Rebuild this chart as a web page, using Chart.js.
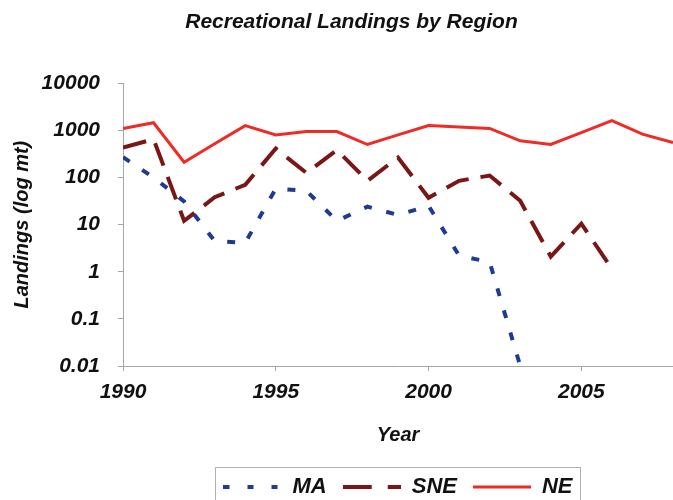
<!DOCTYPE html>
<html>
<head>
<meta charset="utf-8">
<script src="https://cdn.jsdelivr.net/npm/chart.js@4.4.1/dist/chart.umd.min.js"></script>
<style>
  body { margin: 0; background: #fff; }
  #chart { display: block; }
</style>
</head>
<body>
<canvas id="chart" width="673" height="500"></canvas>
<script>
// data
var years = [1990, 1991, 1992, 1993, 1994, 1995, 1996, 1997, 1998, 1999,
             2000, 2001, 2002, 2003, 2004, 2005, 2006, 2007, 2008];
var ma  = [270, 100, 31, 4.5, 4.1, 58, 52, 12, 24, 16,
           25, 2.2, 1.6, 0.01, null, null, null, null, null];
var sne = [430, 650, 12, 38, 70, 410, 125, 380, 85, 265,
           37, 85, 110, 32, 2.1, 10.5, 1.15, null, null];
var ne  = [1090, 1450, 210, 520, 1260, 800, 940, 940, 500, 800,
           1260, 1180, 1100, 600, 500, 890, 1600, 830, 550];
var xTicks = [1990, 1995, 2000, 2005];
var yTicks = [0.01, 0.1, 1, 10, 100, 1000, 10000];

function pts(vals) {
    var out = [];
    for (var i = 0; i < years.length; i++) {
        out.push({x: years[i], y: vals[i]});
    }
    return out;
}

// little line samples for the legend
function sample(color, width, dash) {
    var c = document.createElement('canvas');
    c.width = 58; c.height = 8;
    var g = c.getContext('2d');
    g.strokeStyle = color;
    g.lineWidth = width;
    g.setLineDash(dash);
    g.beginPath();
    g.moveTo(0, 4);
    g.lineTo(58, 4);
    g.stroke();
    return c;
}

var axisGray = '#a6a6a6';
var txt = '#111';
var boldItalic = function (size) { return {size: size, weight: 'bold', style: 'italic'}; };

Chart.defaults.font.family = '"Liberation Sans", Arial, sans-serif';

// box round the legend, and title nudged right like the original
var legendBorder = {
    id: 'legendBorder',
    afterLayout: function (chart) {
        chart.titleBlock.left = 30;
    },
    afterDraw: function (chart) {
        var boxes = chart.legend.legendHitBoxes;
        if (!boxes || !boxes.length) return;
        var first = boxes[0], last = boxes[boxes.length - 1];
        var ctx = chart.ctx;
        ctx.save();
        ctx.strokeStyle = '#b0b0b0';
        ctx.lineWidth = 1;
        ctx.strokeRect(Math.round(first.left - 8) + 0.5, Math.round(first.top - 9) + 0.5,
                       Math.round(last.left + last.width - first.left + 16), 80);
        ctx.restore();
    }
};

var ctx = document.getElementById('chart').getContext('2d');
var myChart = new Chart(ctx, {
    type: 'line',
    data: {
        datasets: [{
            label: 'MA',
            data: pts(ma),
            borderColor: '#1f3a93',
            borderWidth: 4,
            borderDash: [8, 15],
            pointRadius: 0,
            pointStyle: sample('#1f3a93', 4, [6, 18]),
            tension: 0
        },
        {
            label: 'SNE',
            data: pts(sne),
            borderColor: '#7a1616',
            borderWidth: 4,
            borderDash: [24, 12],
            pointRadius: 0,
            pointStyle: sample('#7a1616', 4, [29, 16]),
            tension: 0
        },
        {
            label: 'NE',
            data: pts(ne),
            borderColor: '#ee2b24',
            borderWidth: 3,
            pointRadius: 0,
            pointStyle: sample('#ee2b24', 3, []),
            tension: 0
        }]
    },
    options: {
        responsive: false,
        animation: false,
        devicePixelRatio: 1,
        layout: { padding: { left: 0, right: 0, top: 0, bottom: -8 } },
        plugins: {
            title: {
                display: true,
                text: 'Recreational Landings by Region',
                color: txt,
                font: boldItalic(21),
                padding: { top: 10, bottom: 48 }
            },
            legend: {
                position: 'bottom',
                fullSize: false,
                labels: {
                    usePointStyle: true,
                    pointStyleWidth: 58,
                    color: txt,
                    font: boldItalic(22),
                    padding: 16
                }
            },
            tooltip: { enabled: false }
        },
        scales: {
            x: {
                type: 'linear',
                min: 1990,
                max: 2008,
                afterBuildTicks: function (s) {
                    s.ticks = xTicks.map(function (v) { return {value: v}; });
                },
                afterFit: function (s) { s.height = 94; },
                ticks: {
                    color: txt,
                    font: boldItalic(21),
                    padding: 9,
                    maxRotation: 0,
                    callback: function (v) { return String(v); }
                },
                grid: { drawOnChartArea: false, tickLength: 5, color: axisGray },
                border: { color: axisGray },
                title: {
                    display: true,
                    text: 'Year',
                    color: txt,
                    font: boldItalic(20),
                    padding: { top: 0, bottom: 13 }
                }
            },
            y: {
                type: 'logarithmic',
                min: 0.01,
                max: 10000,
                afterBuildTicks: function (s) {
                    s.ticks = yTicks.map(function (v) { return {value: v}; });
                },
                afterFit: function (s) { s.width = 123; },
                ticks: {
                    color: txt,
                    font: boldItalic(21),
                    padding: 18,
                    callback: function (v) { return String(v); }
                },
                grid: { drawOnChartArea: false, tickLength: 5, color: axisGray },
                border: { color: axisGray },
                title: {
                    display: true,
                    text: 'Landings (log mt)',
                    color: txt,
                    font: boldItalic(20),
                    padding: { top: 10, bottom: 0 }
                }
            }
        }
    },
    plugins: [legendBorder]
});
</script>
</body>
</html>
